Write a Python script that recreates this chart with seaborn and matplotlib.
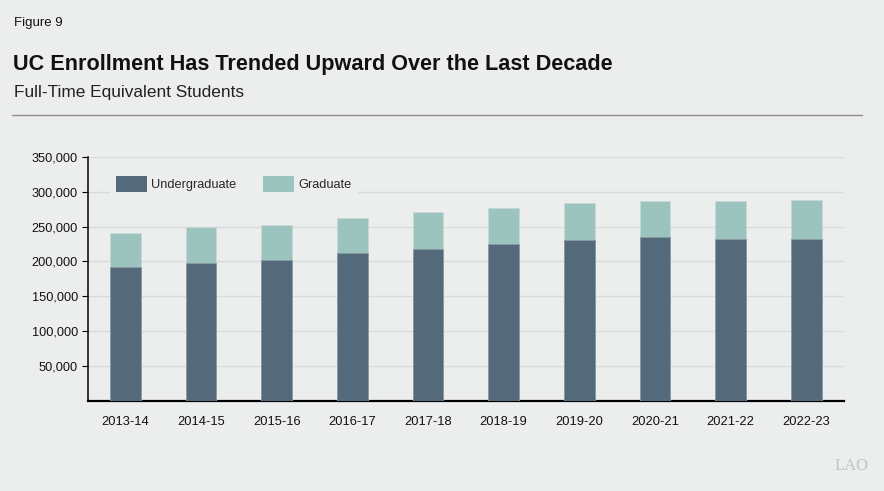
import matplotlib
matplotlib.use("Agg")
import matplotlib.pyplot as plt
import seaborn as sns
import pandas as pd
from matplotlib.patches import Patch
from matplotlib.lines import Line2D

# Data
years = ["2013-14", "2014-15", "2015-16", "2016-17", "2017-18",
         "2018-19", "2019-20", "2020-21", "2021-22", "2022-23"]
undergrad = [191700, 198300, 202100, 211700, 218300,
             224500, 230300, 234500, 232100, 232100]
graduate = [49400, 50500, 50000, 50900, 52400,
            52900, 53300, 52900, 54300, 56200]

df = pd.DataFrame({"year": years, "undergrad": undergrad, "graduate": graduate})
df["total"] = df["undergrad"] + df["graduate"]

bg = "#ECEEED"
ug_color = "#546A7B"
grad_color = "#9BC4BE"

sns.set_style("white")
plt.rcParams["font.family"] = ["Liberation Sans", "DejaVu Sans"]

fig = plt.figure(figsize=(8.84, 4.91), dpi=100, facecolor=bg)
ax = fig.add_axes([0.0992, 0.1843, 0.8556, 0.4959])
ax.set_facecolor(bg)

# stacked bars: totals first, undergrad drawn on top
sns.barplot(data=df, x="year", y="total", color=grad_color, width=0.405,
            saturation=1, edgecolor="#C9D6D4", linewidth=0.6, ax=ax, zorder=3)
sns.barplot(data=df, x="year", y="undergrad", color=ug_color, width=0.405,
            saturation=1, edgecolor="#8A9AA6", linewidth=0.6, ax=ax, zorder=3)

ax.set_xlim(-0.5, 9.5)
ax.set_ylim(0, 350000)
ax.set_yticks([50000, 100000, 150000, 200000, 250000, 300000, 350000])
ax.set_yticklabels([f"{v:,}" for v in ax.get_yticks()])
ax.set_xlabel("")
ax.set_ylabel("")
ax.grid(axis="y", color="#D8DBDA", linewidth=1, zorder=0)
ax.set_axisbelow(True)

for s in ["top", "right"]:
    ax.spines[s].set_visible(False)
ax.spines["left"].set_color("black")
ax.spines["left"].set_linewidth(1.1)
ax.spines["bottom"].set_color("black")
ax.spines["bottom"].set_linewidth(1.6)

ax.tick_params(axis="y", which="both", left=True, length=4, width=0.8,
               color="black", labelsize=9.2, pad=3, labelcolor="#111111")
ax.tick_params(axis="x", bottom=False, labelsize=9.3, pad=8, labelcolor="#111111")

handles = [Patch(facecolor=ug_color, edgecolor="none", label="Undergraduate"),
           Patch(facecolor=grad_color, edgecolor="none", label="Graduate")]
leg = ax.legend(handles=handles, loc="upper left", bbox_to_anchor=(0.0295, 0.947),
                ncol=2, frameon=True, fontsize=9.2, handlelength=2.42,
                handleheight=1.5, columnspacing=2.1, handletextpad=0.3,
                borderpad=0.5, borderaxespad=0)
leg.get_frame().set_facecolor(bg)
leg.get_frame().set_edgecolor("none")
leg.get_frame().set_alpha(1)
leg.get_frame().set_boxstyle("square", pad=0)
leg.set_zorder(4)

# header text
fig.text(0.0158, 0.953, "Figure 9", fontsize=9.5, color="#111111", va="center")
fig.text(0.0147, 0.868, "UC Enrollment Has Trended Upward Over the Last Decade",
         fontsize=15.6, fontweight="bold", color="#111111", va="center")
fig.text(0.0158, 0.811, "Full-Time Equivalent Students", fontsize=12.4,
         color="#222222", va="center")
fig.add_artist(Line2D([0.0136, 0.975], [0.765, 0.765], color="#8C8C8C",
                      linewidth=1, transform=fig.transFigure))

# logo text
fig.text(0.963, 0.05, "LAO", fontsize=12, color="#C2C4C3",
         family="Liberation Serif", ha="center", va="center")

fig.savefig("out.png", dpi=100, facecolor=bg)
